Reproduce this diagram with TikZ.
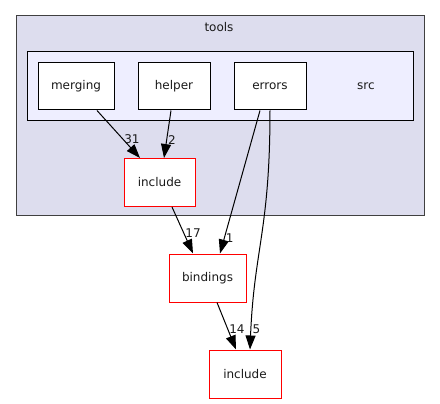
\documentclass[tikz,border=0pt]{standalone}
\usepackage{fontspec}
\setmainfont{DejaVu Sans}
\usetikzlibrary{arrows.meta}
\definecolor{toolsfill}{HTML}{DDDDEE}
\definecolor{srcfill}{HTML}{EEEEFF}
\definecolor{txt}{HTML}{1A1A1A}
\begin{document}
\begin{tikzpicture}[x=1pt,y=-1pt,
  every node/.style={font=\fontsize{12}{14}\selectfont, text=txt},
  dirbox/.style={draw=black, fill=white, line width=1pt, minimum height=47pt, inner sep=0pt},
  incbox/.style={draw=red, fill=white, line width=1pt, minimum height=48pt, minimum width=72pt, inner sep=0pt},
  dep/.style={-{Triangle[length=14pt,width=10pt]}, line width=1pt},
  cnt/.style={right, inner sep=1pt}]
\useasboundingbox (0,0) rectangle (440,404);
% clusters
\draw[fill=toolsfill, draw=black!75, line width=1pt] (16,16) rectangle (424,216);
\node (tools) at (219,27) {tools};
\draw[fill=srcfill, line width=1pt] (27,52) rectangle (413,121);
\node (src) at (366,86) {src};
% directories
\node[dirbox, minimum width=76pt] (merging) at (76,86.5) {merging};
\node[dirbox, minimum width=72pt] (helper) at (174,86.5) {helper};
\node[dirbox, minimum width=72pt] (errors) at (270,86.5) {errors};
\node[incbox, minimum width=71pt] (incl) at (159.5,182.5) {include};
\node[incbox, minimum width=77pt] (bindings) at (207.5,278) {bindings};
\node[incbox] (inclb) at (245,374) {include};
% dependencies
\draw[dep] ([xshift=21pt]merging.south) -- ([xshift=-19.5pt]incl.north) node[cnt, pos=0.6] {31};
\draw[dep] ([xshift=-3pt]helper.south) -- ([xshift=4.5pt]incl.north) node[cnt, pos=0.62] {2};
\draw[dep] ([xshift=12.5pt]incl.south) -- ([xshift=-14.5pt]bindings.north) node[cnt, pos=0.57] {17};
\draw[dep] ([xshift=-10pt]errors.south) -- ([xshift=12.5pt]bindings.north) node[cnt, pos=0.89] {1};
\draw[dep] (errors.south) .. controls +(0,120) and +(4,-100) .. ([xshift=5pt]inclb.north) node[cnt, pos=0.93] {5};
\draw[dep] ([xshift=9.5pt]bindings.south) -- ([xshift=-9pt]inclb.north) node[cnt, pos=0.57] {14};
\end{tikzpicture}
\end{document}
